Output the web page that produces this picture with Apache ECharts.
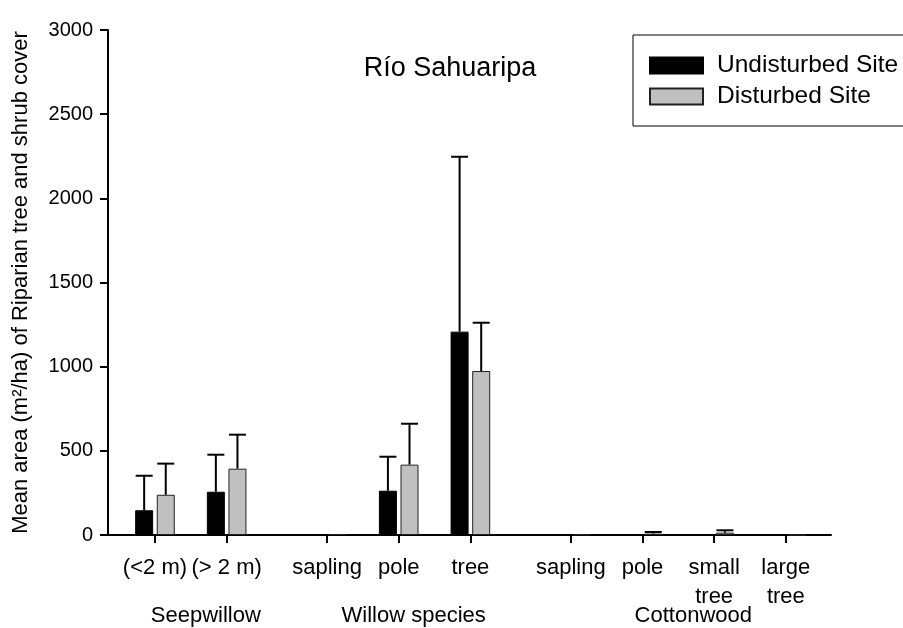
<!DOCTYPE html>
<html>
<head>
<meta charset="utf-8">
<script src="https://cdn.jsdelivr.net/npm/echarts@6/dist/echarts.min.js"></script>
<style>
html,body{margin:0;padding:0;background:#fff;}
#chart{width:903px;height:628px;}
</style>
</head>
<body>
<div id="chart"></div>
<script>
// ---- data ----
const categories = ['(<2 m)', '(> 2 m)', 'sapling', 'pole', 'tree', 'sapling', 'pole', 'small\ntree', 'large\ntree'];
const groups = ['Seepwillow', 'Willow species', 'Cottonwood'];
const groupSizes = [2, 3, 4];
const undisturbedMean = [147, 257, 0, 263, 1208, 0, 0, 0, 0];
const undisturbedErr  = [205, 220, 0, 202, 1039, 0, 0, 0, 0];
const disturbedMean   = [239, 394, 5, 418, 974, 3, 8, 14, 0];
const disturbedErr    = [185, 202, 0, 243, 287, 0, 10, 14, 0];
const seriesNames = ['Undisturbed Site', 'Disturbed Site'];
const yTickStep = 500;
const yMax = 3000;

// ---- layout constants ----
const GROUP_GAP = 0.4;
const BAR_W = 18;
const BAR_GAP_PX = 3.6;
const FONT = '"Liberation Sans", Arial, sans-serif';

// slot positions derived from group structure
const positions = [];
const groupCenters = [];
(function () {
  let idx = 0;
  groupSizes.forEach((n, g) => {
    const start = positions.length;
    for (let i = 0; i < n; i++) { positions.push(idx + g * GROUP_GAP); idx++; }
    const slice = positions.slice(start);
    groupCenters.push(slice.reduce((a, b) => a + b, 0) / slice.length);
  });
})();

function labelFor(v, vals, names) {
  for (let i = 0; i < vals.length; i++) if (Math.abs(vals[i] - v) < 1e-6) return names[i];
  return '';
}

function errSeries(name, means, errs, side) {
  return {
    type: 'custom',
    name: name + ' err',
    xAxisIndex: 0,
    z: 5,
    silent: true,
    data: positions.map((p, i) => [p, means[i], means[i] + errs[i]]),
    renderItem: function (params, api) {
      const x = api.value(0), m = api.value(1), u = api.value(2);
      if (u - m <= 0) return null;
      const off = side * (BAR_W + BAR_GAP_PX) / 2;
      const p0 = api.coord([x, m]);
      const p1 = api.coord([x, u]);
      const cx = p0[0] + off;
      const st = { stroke: '#000', lineWidth: 2 };
      return {
        type: 'group',
        children: [
          { type: 'line', shape: { x1: cx, y1: p0[1], x2: cx, y2: p1[1] }, style: st },
          { type: 'line', shape: { x1: cx - 8.5, y1: p1[1], x2: cx + 8.5, y2: p1[1] }, style: st }
        ]
      };
    }
  };
}

const chart = echarts.init(document.getElementById('chart'), null, { renderer: 'canvas' });
const option = {
  animation: false,
  backgroundColor: '#fff',
  textStyle: { fontFamily: FONT, color: '#000' },
  title: {
    text: 'Río Sahuaripa',
    left: 450, top: 55, textAlign: 'center', padding: 0,
    textStyle: { fontFamily: FONT, fontSize: 27, fontWeight: 'normal', color: '#000' }
  },
  legend: {
    data: seriesNames,
    orient: 'vertical',
    left: 633, top: 35,
    padding: [18, 30, 17, 16],
    itemWidth: 53, itemHeight: 16, itemGap: 6,
    borderColor: '#000', borderWidth: 1, borderRadius: 0,
    icon: 'rect',
    textStyle: { fontFamily: FONT, fontSize: 24.5, color: '#000', padding: [0, 0, 0, 9] }
  },
  grid: { left: 108, right: 72, top: 30, bottom: 93, containLabel: false },
  xAxis: [
    {
      type: 'value',
      min: -0.655, max: 9.43,
      position: 'bottom',
      splitLine: { show: false },
      axisLine: { show: true, onZero: false, lineStyle: { color: '#000', width: 2 } },
      axisTick: { show: true, customValues: positions, length: 8, inside: false, lineStyle: { color: '#000', width: 2 } },
      axisLabel: {
        customValues: positions,
        margin: 18,
        fontFamily: FONT, fontSize: 22, color: '#000', lineHeight: 29,
        formatter: v => labelFor(v, positions, categories)
      }
    },
    {
      type: 'value',
      min: -0.655, max: 9.43,
      position: 'bottom',
      gridIndex: 0,
      splitLine: { show: false },
      axisLine: { show: false, onZero: false },
      axisTick: { show: false },
      axisLabel: {
        customValues: groupCenters,
        margin: 70,
        fontFamily: FONT, fontSize: 22, color: '#000',
        padding: [0, 0, 0, 30],
        formatter: v => labelFor(v, groupCenters, groups)
      }
    }
  ],
  yAxis: {
    type: 'value',
    min: 0, max: yMax, interval: yTickStep,
    name: 'Mean area (m²/ha) of Riparian tree and shrub cover',
    nameLocation: 'middle',
    nameGap: 76,
    nameRotate: 90,
    nameTextStyle: { fontFamily: FONT, fontSize: 22, color: '#000' },
    splitLine: { show: false },
    axisLine: { show: true, onZero: false, lineStyle: { color: '#000', width: 2 } },
    axisTick: { show: true, length: 8, lineStyle: { color: '#000', width: 2 } },
    axisLabel: { margin: 15, fontFamily: FONT, fontSize: 20, color: '#000', formatter: v => String(v) }
  },
  series: [
    {
      type: 'bar', name: seriesNames[0], xAxisIndex: 0,
      barWidth: BAR_W, barGap: '20%',
      data: positions.map((p, i) => [p, undisturbedMean[i]]),
      itemStyle: { color: '#000', borderColor: '#000', borderWidth: 1 }
    },
    {
      type: 'bar', name: seriesNames[1], xAxisIndex: 0,
      barWidth: BAR_W, barGap: '20%',
      data: positions.map((p, i) => [p, disturbedMean[i]]),
      itemStyle: { color: '#c0c0c0', borderColor: '#222', borderWidth: 1 }
    },
    errSeries(seriesNames[0], undisturbedMean, undisturbedErr, -1),
    errSeries(seriesNames[1], disturbedMean, disturbedErr, 1)
  ]
};
chart.setOption(option);
</script>
</body>
</html>
